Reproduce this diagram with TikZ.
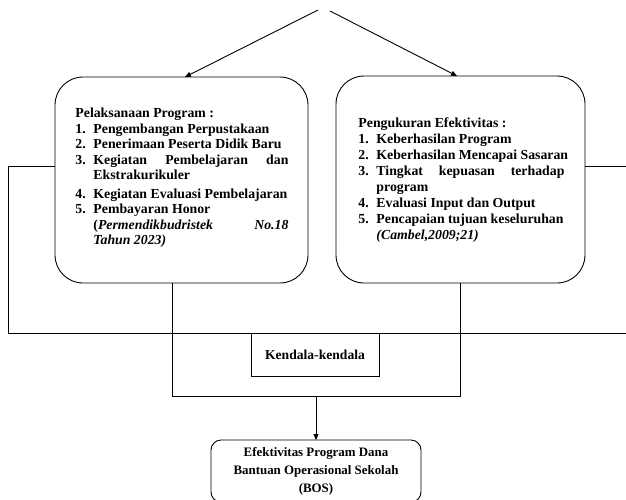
\documentclass[tikz,border=0pt]{standalone}
\usepackage{fontspec}
\setmainfont{Liberation Serif}
\usetikzlibrary{arrows.meta}
\newcommand\itm[2]{\makebox[18pt][l]{#1}#2}
\newcommand\cont[1]{\hspace*{18pt}#1}
\begin{document}
\begin{tikzpicture}[x=1pt,y=-1pt,line width=0.9pt,
  roundbox/.style={draw, rounded corners=28pt, inner sep=0pt, outer sep=0pt},
  plainbox/.style={draw, inner sep=0pt, outer sep=0pt},
  listtext/.style={inner sep=0pt, align=left, font=\bfseries\fontsize{13.8}{15.6}\selectfont},
  arr/.style={-{Triangle[length=6pt,width=5pt]}}]
\useasboundingbox (0,0) rectangle (626,499);
% main boxes
\node[roundbox, minimum width=253pt, minimum height=206pt] (lbox) at (181.5,180) {};
\node[roundbox, minimum width=249pt, minimum height=207pt] (rbox) at (460.5,179.5) {};
% texts
\node[listtext, anchor=north west] (ltext) at (75,107.5) {Pelaksanaan Program :\\
\itm{1.}{Pengembangan Perpustakaan}\\
\itm{2.}{Penerimaan Peserta Didik Baru}\\
\itm{3.}{\makebox[195pt][l]{Kegiatan\hfill Pembelajaran\hfill dan}}\\
\cont{Ekstrakurikuler}\\[2.5pt]
\itm{4.}{Kegiatan Evaluasi Pembelajaran}\\
\itm{5.}{Pembayaran Honor}\\
\cont{\makebox[195pt][l]{(\textit{Permendikbudristek}\hfill\textit{No.18}}}\\
\cont{\textit{Tahun 2023)}}};
\node[listtext, anchor=north west, font=\bfseries\fontsize{13.8}{16}\selectfont] (rtext) at (358,117.5) {Pengukuran Efektivitas :\\
\itm{1.}{Keberhasilan Program}\\
\itm{2.}{Keberhasilan Mencapai Sasaran}\\
\itm{3.}{\makebox[188pt][l]{Tingkat\hfill kepuasan\hfill terhadap}}\\
\cont{program}\\
\itm{4.}{Evaluasi Input dan Output}\\
\itm{5.}{Pencapaian tujuan keseluruhan}\\
\cont{\textit{(Cambel,2009;21)}}};
% kendala box
\node[plainbox, minimum width=128pt, minimum height=43pt, font=\bfseries\fontsize{13.6}{15}\selectfont] (kbox) at (315,354.5) {Kendala-kendala};
% bottom box
\node[draw, rounded corners=10pt, inner sep=0pt, outer sep=0pt, minimum width=210pt, minimum height=62pt, align=center, font=\bfseries\fontsize{12.9}{18}\selectfont] (bbox) at (316,471) {Efektivitas Program Dana\\Bantuan Operasional Sekolah\\(BOS)};
% top arrows
\coordinate (ts1) at (318,10);
\coordinate (ts2) at (330,11);
\draw[arr] (ts1) -- ([xshift=3.5pt]lbox.north);
\draw[arr] (ts2) -- ([xshift=-3.5pt]rbox.north);
% side bracket lines
\coordinate (lc) at (8,333);
\coordinate (re) at (626,333);
\coordinate (rend) at (626,166);
\draw ([yshift=14pt]lbox.west) -| (lc) -- (re);
\draw ([yshift=13.5pt]rbox.east) -- (rend);
% lower rectangle
\coordinate (lj) at (172,396);
\coordinate (rj) at (460.5,396);
\draw (lbox.south -| lj) -- (lj) -- (rj) -- (rbox.south);
\coordinate (kj) at (bbox.north |- lj);
\draw[arr] (kj) -- (bbox.north);
\end{tikzpicture}
\end{document}
